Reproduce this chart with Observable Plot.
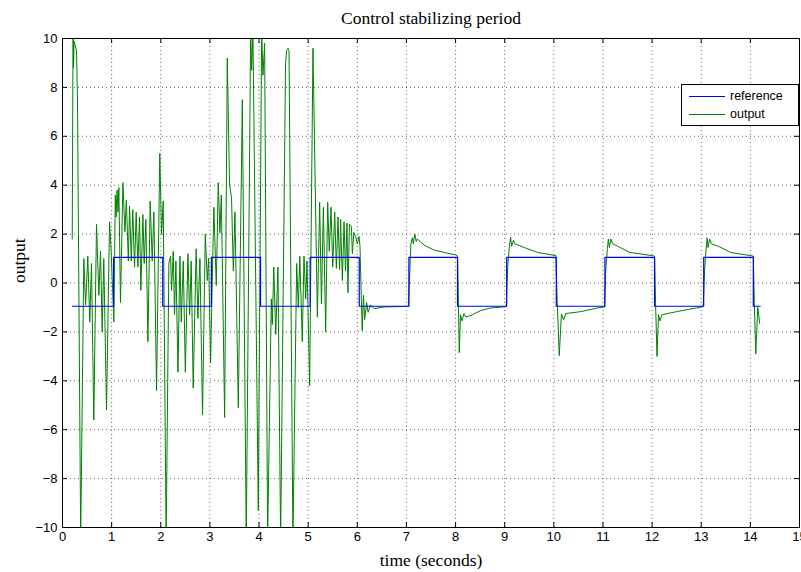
<!DOCTYPE html>
<html>
<head>
<meta charset="utf-8">
<script src="https://cdn.jsdelivr.net/npm/d3@7"></script>
<script src="https://cdn.jsdelivr.net/npm/@observablehq/plot@0.6"></script>
<style>
  body { margin: 0; background: #fff; }
  #wrap { position: relative; width: 801px; height: 572px; }
  #legend { position: absolute; left: 681px; top: 84px; width: 116px; height: 40px; border: 1px solid #000; background: #fff; font-family: "Liberation Sans", Arial, sans-serif; font-size: 12.5px; }
  #legend .row { position: absolute; left: 0; height: 16px; display: flex; align-items: center; }
  #legend .sw { width: 36px; height: 0; border-top: 1px solid; margin-left: 7px; margin-right: 5px; }
</style>
</head>
<body>
<div id="wrap"></div>
<script>
const titleText = "Control stabilizing period";
const xLabel = "time (seconds)";
const yLabel = "output";
const seriesNames = ["reference", "output"];
const seriesColors = ["#0000ff", "#008000"];
const xTicks = d3.range(0, 16, 1);
const yTicks = d3.range(-10, 11, 2);

const referenceTime = [0.2, 1.04, 2.04, 3.03, 4.03, 5.04, 6.04, 7.05, 8.04, 9.04, 10.05, 11.04, 12.05, 13.05, 14.06, 14.2];
const referenceValue = [-0.95, 1.05, -0.95, 1.05, -0.95, 1.05, -0.95, 1.05, -0.95, 1.05, -0.95, 1.05, -0.95, 1.05, -0.95, -0.95];

const outputTime = [
  0.198, 0.215, 0.225, 0.235, 0.26, 0.285, 0.305, 0.37, 0.434, 0.47, 0.515, 0.555, 0.59, 0.637, 0.692, 0.74, 0.774, 0.808, 0.84, 0.896, 0.957, 0.99,
  1.045, 1.075, 1.09, 1.11, 1.13, 1.147, 1.18, 1.23, 1.27, 1.30, 1.34, 1.365, 1.40, 1.43, 1.466, 1.50, 1.534, 1.568, 1.595, 1.636, 1.663, 1.697, 1.738, 1.785, 1.826, 1.86, 1.914, 1.98, 2.016, 2.05,
  2.11, 2.165, 2.20, 2.22, 2.254, 2.28, 2.308, 2.35, 2.39, 2.417, 2.458, 2.50, 2.553, 2.587, 2.62, 2.66, 2.72, 2.756, 2.797, 2.85, 2.906, 2.947, 2.974,
  3.014, 3.08, 3.13, 3.17, 3.204, 3.232, 3.30, 3.354, 3.40, 3.44, 3.477, 3.51, 3.578, 3.66, 3.74, 3.83, 3.85, 3.876, 3.985,
  4.053, 4.08, 4.114, 4.175, 4.25, 4.27, 4.30, 4.34, 4.385, 4.44, 4.54, 4.56, 4.59, 4.61, 4.69, 4.766, 4.80, 4.83, 4.88, 4.915, 4.95, 4.976,
  5.03, 5.098, 5.187, 5.234, 5.27, 5.31, 5.356, 5.397, 5.43, 5.465, 5.50, 5.54, 5.574, 5.607, 5.64, 5.66, 5.696, 5.73, 5.76, 5.79, 5.81, 5.84, 5.88, 5.90, 5.93, 5.967, 6.00, 6.035, 6.055,
  6.08, 6.10, 6.125, 6.15, 6.19, 6.22, 6.27, 6.34, 6.54, 6.95, 7.04,
  7.07, 7.09, 7.12, 7.14, 7.17, 7.20, 7.22, 7.36, 7.56, 7.83, 8.00, 8.04,
  8.06, 8.075, 8.10, 8.13, 8.17, 8.21, 8.34, 8.51, 8.72, 9.03,
  9.06, 9.09, 9.12, 9.14, 9.18, 9.21, 9.40, 9.67, 10.04,
  10.07, 10.11, 10.155, 10.20, 10.245, 10.55, 10.89, 11.03,
  11.06, 11.09, 11.11, 11.13, 11.16, 11.2, 11.3, 11.55, 12.0, 12.05,
  12.07, 12.10, 12.13, 12.16, 12.2, 12.5, 12.9, 13.04,
  13.07, 13.10, 13.12, 13.14, 13.17, 13.21, 13.35, 13.6, 14.0, 14.06,
  14.08, 14.11, 14.15, 14.19
];
const outputValue = [
  1.8, 10.4, 8.8, 9.9, 9.7, 9.5, 7.5, -10.5, 1.0, -0.9, 1.1, -1.6, 0.8, -5.6, 2.4, -0.5, 1.3, -2.0, 1.0, -5.2, 2.5, 1.3,
  -1.6, 3.6, 2.7, 3.8, 2.9, 3.9, -0.8, 4.1, 2.1, 3.4, 0.9, 3.15, 0.9, 3.0, 0.65, 2.9, 0.65, 2.7, -0.3, 2.8, 0.8, 2.6, -2.4, 3.35, 0.9, 2.9, -4.4, 5.3, 2.0, 3.35,
  -10.5, 0.8, 1.1, -0.3, 1.3, -1.3, 0.9, -3.65, 1.1, -1.6, 0.9, -3.65, 1.2, -1.3, 0.9, -4.3, 1.4, -1.45, 1.0, -5.4, 2.0, 0.1, 1.0,
  -3.25, 3.1, -0.1, 4.1, 2.05, 3.6, -5.5, 9.2, 4.0, 3.5, 0.5, 2.9, -5.1, 7.5, -10.5, 10.4, 8.7, 10.2, -9.3,
  10.3, 8.5, 9.8, -10.5, -0.65, -1.7, 0.65, -2.1, 0.65, -10.5, 9.0, 9.5, 9.6, 9.5, -10.5, 0.8, -1.0, 1.1, -2.4, 1.1, -0.65, 0.9,
  -4.2, 9.6, -1.4, 3.3, -0.85, 3.1, -2.0, 3.3, 1.3, 3.1, 0.65, 2.9, 0.6, 2.7, 0.55, 2.6, 0.1, 2.5, 0.5, 2.45, -0.4, 2.4, 2.3, 1.2, 2.07, 1.9, 1.6, 1.9, 1.5,
  -0.5, -1.95, -0.5, -1.5, -0.8, -1.2, -0.9, -1.05, -0.98, -0.96, -0.95,
  0.5, 1.6, 1.85, 1.6, 2.0, 1.7, 1.8, 1.55, 1.35, 1.22, 1.15, 1.1,
  -1.0, -2.85, -1.3, -1.55, -1.25, -1.4, -1.3, -1.13, -1.02, -0.97,
  0.6, 1.4, 1.87, 1.5, 1.75, 1.6, 1.45, 1.25, 1.12,
  -0.8, -2.97, -1.27, -1.5, -1.25, -1.17, -1.02, -0.98,
  0.6, 1.4, 1.8, 1.45, 1.8, 1.6, 1.5, 1.25, 1.12, 1.1,
  -0.8, -3.0, -1.3, -1.55, -1.3, -1.17, -1.02, -0.97,
  0.6, 1.4, 1.85, 1.45, 1.8, 1.6, 1.5, 1.25, 1.12, 1.1,
  -0.8, -2.9, -1.0, -1.65
];

const reference = referenceTime.map((t, i) => ({t, v: referenceValue[i]}));
const output = outputTime.map((t, i) => ({t, v: outputValue[i]}));

const W = 801, H = 572, mL = 62, mR = 2, mT = 38, mB = 45;
const pw = W - mL - mR, ph = H - mT - mB;
const serif = "'Liberation Serif', 'DejaVu Serif', serif";

const chart = Plot.plot({
  width: W, height: H,
  marginLeft: mL, marginRight: mR, marginTop: mT, marginBottom: mB,
  style: {fontFamily: "'Liberation Sans', Arial, sans-serif", fontSize: "13px", background: "#fff", color: "#000"},
  x: {domain: [0, 15], ticks: xTicks, label: null},
  y: {domain: [-10, 10], ticks: yTicks, label: null},
  marks: [
    Plot.gridX(xTicks, {stroke: "#555", strokeOpacity: 0.9, strokeDasharray: "1,3"}),
    Plot.gridY(yTicks, {stroke: "#555", strokeOpacity: 0.9, strokeDasharray: "1,3"}),
    Plot.line(output, {x: "t", y: "v", stroke: seriesColors[1], strokeWidth: 1, clip: true}),
    Plot.line(reference, {x: "t", y: "v", stroke: seriesColors[0], strokeWidth: 1.2, curve: "step-after", clip: true}),
    Plot.tickX(xTicks, {x: d => d, insetTop: ph - 5, stroke: "#000"}),
    Plot.tickX(xTicks, {x: d => d, insetBottom: ph - 5, stroke: "#000"}),
    Plot.tickY(yTicks, {y: d => d, insetRight: pw - 5, stroke: "#000"}),
    Plot.tickY(yTicks, {y: d => d, insetLeft: pw - 5, stroke: "#000"}),
    Plot.axisX(xTicks, {tickSize: 0, tickPadding: 4, fontSize: 13}),
    Plot.axisY(yTicks, {tickSize: 0, tickPadding: 5, fontSize: 13}),
    Plot.frame({stroke: "#000"}),
    Plot.text([titleText], {text: d => d, frameAnchor: "top", lineAnchor: "middle", dy: -20, fontFamily: serif, fontSize: 17.5}),
    Plot.text([xLabel], {text: d => d, frameAnchor: "bottom", lineAnchor: "middle", dy: 33, fontFamily: serif, fontSize: 17.5}),
    Plot.text([yLabel], {text: d => d, frameAnchor: "left", rotate: -90, dx: -43, fontFamily: serif, fontSize: 17.5})
  ]
});

const wrap = document.getElementById("wrap");
wrap.appendChild(chart);

const legend = document.createElement("div");
legend.id = "legend";
seriesNames.forEach((name, i) => {
  const row = document.createElement("div");
  row.className = "row";
  row.style.top = (3 + i * 18) + "px";
  const sw = document.createElement("span");
  sw.className = "sw";
  sw.style.borderTopColor = seriesColors[i];
  const label = document.createElement("span");
  label.textContent = name;
  row.appendChild(sw);
  row.appendChild(label);
  legend.appendChild(row);
});
wrap.appendChild(legend);
</script>
</body>
</html>
